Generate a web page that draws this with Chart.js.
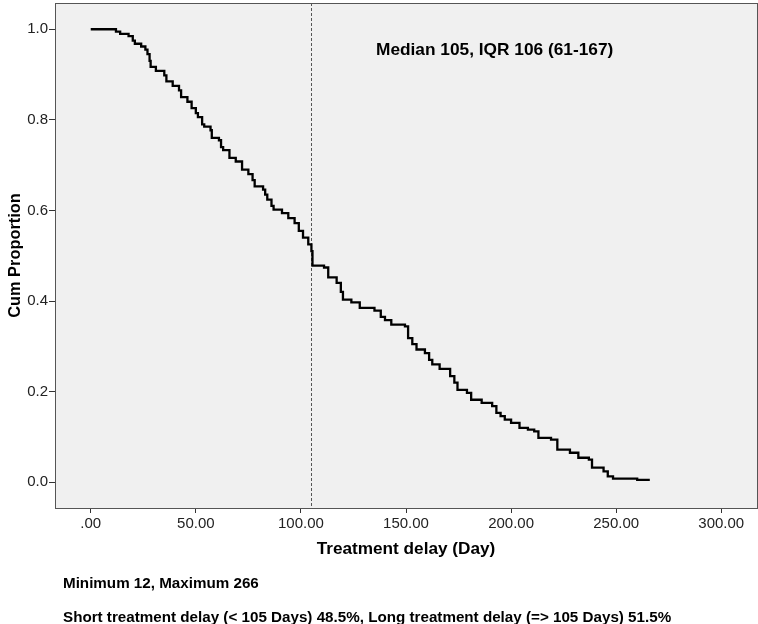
<!DOCTYPE html>
<html>
<head>
<meta charset="utf-8">
<style>
html,body{margin:0;padding:0;background:#ffffff;}
#wrap{position:relative;width:758px;height:624px;}
</style>
<script src="https://cdn.jsdelivr.net/npm/chart.js@4.4.1/dist/chart.umd.min.js"></script>
</head>
<body>
<div id="wrap"><canvas id="c" width="758" height="624"></canvas></div>
<script>
// ---- data ----
const delayDays = [0,12,14,18,20,21,24,26,27,28,28.5,31,35,36,39,42,43,46,48,50,51,53,54,57,57.6,61,62,63,66,69,72,75,77,78,82,83,84,86,87,91,94,97,99,101,103.5,105,105.5,111,113,117,119,120,124,128,135,138,140,143,149.5,151,153,155,159,161,162.5,166,171,173,174.5,179,181,186,191,193,195,197,200,204,208,211,213,219,222,228,232,237,238.5,244,246,248.5,260,266];
const cumProportion = [1.0,0.995,0.99,0.985,0.975,0.968,0.962,0.955,0.945,0.93,0.917,0.908,0.898,0.885,0.875,0.865,0.85,0.84,0.826,0.815,0.806,0.79,0.785,0.777,0.76,0.755,0.74,0.733,0.716,0.708,0.69,0.68,0.667,0.653,0.646,0.635,0.624,0.61,0.602,0.594,0.583,0.572,0.555,0.54,0.525,0.51,0.478,0.474,0.452,0.44,0.42,0.403,0.397,0.385,0.379,0.365,0.358,0.348,0.344,0.318,0.305,0.293,0.285,0.27,0.26,0.25,0.234,0.22,0.204,0.197,0.182,0.175,0.168,0.153,0.146,0.138,0.131,0.12,0.116,0.112,0.098,0.094,0.072,0.065,0.054,0.05,0.032,0.024,0.013,0.008,0.005,0.005];
const xTickValues = [0,50,100,150,200,250,300];
const yTickValues = [0,0.2,0.4,0.6,0.8,1.0];
const medianDelay = 105;
const xTitle = 'Treatment delay (Day)';
const yTitle = 'Cum Proportion';
const annotationText = 'Median 105, IQR 106 (61-167)';
const footnotes = ['Minimum 12, Maximum 266', 'Short treatment delay (< 105 Days) 48.5%, Long treatment delay (=> 105 Days) 51.5%'];

const FONT = 'Arial, "Liberation Sans", sans-serif';

const points = delayDays.map((d, i) => ({x: d, y: cumProportion[i]}));

const framePlugin = {
  id: 'frame',
  beforeDraw(chart) {
    const {ctx, chartArea: a} = chart;
    ctx.save();
    ctx.fillStyle = '#f0f0f0';
    ctx.fillRect(a.left, a.top, a.right - a.left, a.bottom - a.top);
    ctx.restore();
  },
  beforeDatasetsDraw(chart) {
    const {ctx, chartArea: a, scales} = chart;
    const x = Math.round(scales.x.getPixelForValue(medianDelay)) + 0.5;
    ctx.save();
    ctx.strokeStyle = '#555555';
    ctx.lineWidth = 1;
    ctx.setLineDash([3, 2]);
    ctx.beginPath();
    ctx.moveTo(x, a.top);
    ctx.lineTo(x, a.bottom);
    ctx.stroke();
    ctx.restore();
  },
  afterDraw(chart) {
    const {ctx, chartArea: a} = chart;
    ctx.save();
    ctx.strokeStyle = '#555555';
    ctx.lineWidth = 1;
    ctx.strokeRect(a.left + 0.5, a.top + 0.5, a.right - a.left, a.bottom - a.top);
    ctx.fillStyle = '#000000';
    ctx.textBaseline = 'middle';
    ctx.textAlign = 'left';
    ctx.font = 'bold 17.3px ' + FONT;
    ctx.fillText(annotationText, 376, 50);
    ctx.font = 'bold 15.2px ' + FONT;
    ctx.fillText(footnotes[0], 63, 584);
    ctx.fillText(footnotes[1], 63, 618);
    ctx.restore();
  }
};

new Chart(document.getElementById('c'), {
  type: 'line',
  data: {
    datasets: [{
      data: points,
      stepped: 'before',
      borderColor: '#000000',
      borderWidth: 2.3,
      pointRadius: 0,
      fill: false,
      tension: 0,
      borderJoinStyle: 'miter',
      borderCapStyle: 'butt'
    }]
  },
  options: {
    responsive: false,
    animation: false,
    devicePixelRatio: 1,
    layout: {padding: {top: 3, right: 1, left: 0, bottom: 0}},
    plugins: {legend: {display: false}, tooltip: {enabled: false}, title: {display: false}},
    scales: {
      x: {
        type: 'linear',
        min: -17,
        max: 317,
        afterBuildTicks: s => { s.ticks = xTickValues.map(v => ({value: v})); },
        afterFit: s => { s.height = 116; s.paddingLeft = 0; s.paddingRight = 0; s.paddingTop = 0; s.paddingBottom = 0; },
        ticks: {
          color: '#222222',
          font: {family: FONT, size: 15},
          padding: 2,
          maxRotation: 0,
          autoSkip: false,
          callback: v => v === 0 ? '.00' : Number(v).toFixed(2)
        },
        grid: {display: true, drawOnChartArea: false, drawTicks: true, tickLength: 5, color: '#333333'},
        border: {display: true, color: '#555555'},
        title: {display: true, text: xTitle, color: '#000000', font: {family: FONT, size: 17.2, weight: 'bold'}, padding: {top: 0, bottom: 64}}
      },
      y: {
        type: 'linear',
        min: -0.057,
        max: 1.058,
        afterBuildTicks: s => { s.ticks = yTickValues.map(v => ({value: v})); },
        afterFit: s => { s.width = 55; s.paddingTop = 0; s.paddingBottom = 0; s.paddingLeft = 0; s.paddingRight = 0; },
        ticks: {
          color: '#222222',
          font: {family: FONT, size: 15},
          padding: 1,
          autoSkip: false,
          callback: v => Number(v).toFixed(1)
        },
        grid: {display: true, drawOnChartArea: false, drawTicks: true, tickLength: 6, color: '#333333'},
        border: {display: true, color: '#555555'},
        title: {display: true, text: yTitle, color: '#000000', font: {family: FONT, size: 16.4, weight: 'bold'}, padding: {top: 6, bottom: 0}}
      }
    }
  },
  plugins: [framePlugin]
});
</script>
</body>
</html>
